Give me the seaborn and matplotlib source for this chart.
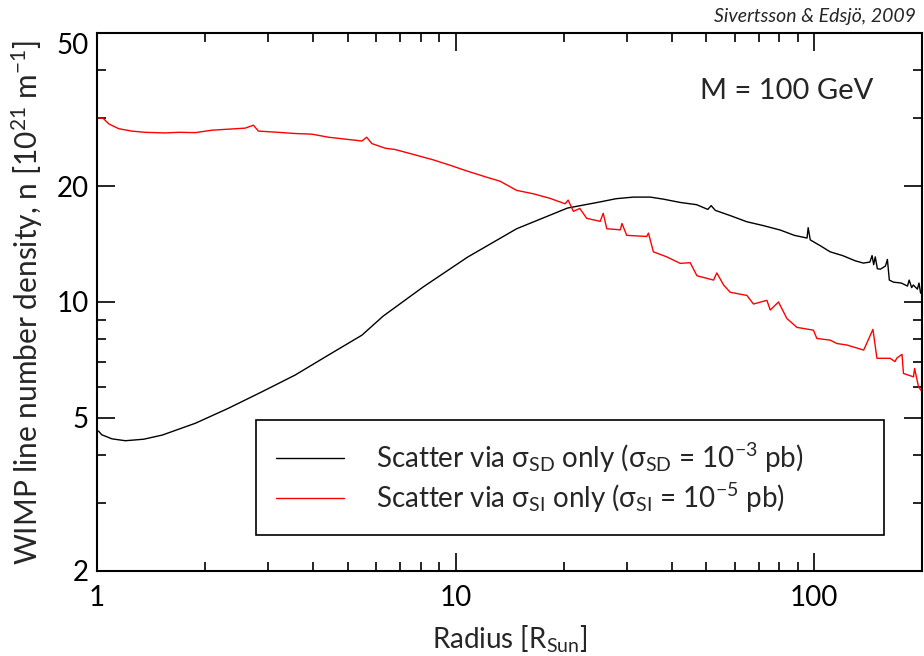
import matplotlib
matplotlib.use("Agg")
import matplotlib.pyplot as plt
import seaborn as sns
from matplotlib.ticker import FixedLocator, NullFormatter

# black curve: spin-dependent scattering only
sd_radius = [1.01, 1.03, 1.1, 1.2, 1.35, 1.52, 1.88, 2.32, 2.88, 3.57, 4.42,
             5.48, 6.28, 8.13, 10.8, 14.8, 20.5, 25.3, 28.0, 31.3, 34.9, 38.0,
             42.3, 44.0, 47.0, 50.5, 51.6, 53.0, 58.0, 64.9, 72.0, 80.4, 88.0,
             95.5, 96.2, 97.5, 104, 110.8, 120, 130, 137.1, 143, 145, 146.5,
             148, 150, 153, 158, 160, 162, 166.4, 175, 182, 184, 187, 189, 194,
             196, 198, 200]
sd_density = [4.62, 4.52, 4.41, 4.36, 4.40, 4.51, 4.84, 5.29, 5.84, 6.46, 7.28,
              8.20, 9.19, 10.95, 13.08, 15.5, 17.54, 18.2, 18.55, 18.73, 18.73,
              18.5, 18.14, 18.05, 17.9, 17.4, 17.8, 17.3, 16.8, 16.16, 15.8,
              15.38, 14.9, 14.66, 15.6, 14.5, 14.0, 13.5, 13.2, 12.8, 12.62,
              12.7, 13.2, 12.5, 13.1, 12.2, 12.17, 12.4, 12.9, 11.4, 11.26,
              11.2, 11.0, 11.4, 10.9, 11.07, 10.8, 11.2, 10.55, 10.5]

# red curve: spin-independent scattering only
si_radius = [1.008, 1.04, 1.08, 1.15, 1.25, 1.36, 1.55, 1.69, 1.88, 2.09, 2.59,
             2.73, 2.82, 3.20, 3.57, 3.97, 4.42, 4.92, 5.48, 5.65, 5.84, 6.36,
             6.78, 7.6, 8.67, 9.6, 10.75, 12.2, 13.3, 14.8, 16.5, 18.3, 20.2,
             20.6, 21.3, 22.2, 23.2, 25.3, 25.8, 26.4, 28.8, 29.1, 30.0, 34.1,
             34.5, 35.6, 38.8, 42.3, 45.1, 47.1, 52.4, 53.5, 55.9, 58.3, 64.9,
             67.7, 73.8, 75.4, 79.5, 83.9, 89.5, 99.5, 101.7, 110.8, 115.7,
             123.4, 137.4, 145.8, 149.6, 162.9, 168, 170, 175.7, 177.4, 189.2,
             190.5, 195.4, 200]
si_density = [30.1, 30.0, 29.0, 28.2, 27.8, 27.6, 27.5, 27.6, 27.55, 27.95, 28.3,
              28.8, 27.8, 27.6, 27.4, 27.3, 26.8, 26.5, 26.2, 26.8, 25.8, 25.1,
              24.9, 24.2, 23.4, 22.7, 21.9, 21.1, 20.6, 19.5, 19.1, 18.6, 18.0,
              18.4, 17.2, 17.5, 16.5, 16.2, 17.0, 15.5, 15.4, 16.0, 14.9, 14.8,
              15.1, 13.5, 13.1, 12.6, 12.65, 11.7, 11.4, 11.9, 11.07, 10.6, 10.4,
              9.88, 10.1, 9.53, 10.0, 9.06, 8.59, 8.45, 8.04, 7.96, 7.80, 7.73,
              7.50, 8.49, 7.14, 7.14, 7.0, 7.15, 7.31, 6.52, 6.39, 6.72, 6.02,
              5.84]

y_ticks = [2, 5, 10, 20, 50]
y_minor = [3, 4, 6, 7, 8, 9, 30, 40]
x_ticks = [1, 10, 100]
x_minor = [2, 3, 4, 5, 6, 7, 8, 9, 20, 30, 40, 50, 60, 70, 80, 90, 200]

sns.set_theme(style="ticks")
plt.rcParams["font.family"] = ["Lato", "DejaVu Sans"]
plt.rcParams["mathtext.fontset"] = "custom"
plt.rcParams["mathtext.rm"] = "Lato"
plt.rcParams["mathtext.it"] = "Lato:italic"
plt.rcParams["mathtext.sf"] = "Lato"
plt.rcParams["mathtext.fallback"] = "stixsans"

fig = plt.figure(figsize=(9.24, 6.56), dpi=100)
ax = fig.add_axes([0.105, 0.1296, 0.893, 0.8201])

sns.lineplot(x=sd_radius, y=sd_density, ax=ax, color="black", lw=1.0,
             estimator=None, sort=False,
             label=r"Scatter via $\mathrm{σ_{SD}}$ only ($\mathrm{σ_{SD}}$ = 10$^{-3}$ pb)")
sns.lineplot(x=si_radius, y=si_density, ax=ax, color="#ff0000", lw=1.0,
             estimator=None, sort=False,
             label=r"Scatter via $\mathrm{σ_{SI}}$ only ($\mathrm{σ_{SI}}$ = 10$^{-5}$ pb)")

ax.set_xscale("log")
ax.set_yscale("log")
ax.set_xlim(1, 200)
ax.set_ylim(2, 50)

ax.xaxis.set_major_locator(FixedLocator(x_ticks))
ax.xaxis.set_minor_locator(FixedLocator(x_minor))
ax.yaxis.set_major_locator(FixedLocator(y_ticks))
ax.yaxis.set_minor_locator(FixedLocator(y_minor))
ax.set_xticklabels([str(t) for t in x_ticks])
ax.set_yticklabels([str(t) for t in y_ticks])
ax.xaxis.set_minor_formatter(NullFormatter())
ax.yaxis.set_minor_formatter(NullFormatter())

ax.tick_params(which="both", direction="in", top=True, right=True,
               colors="black", width=1.2, labelsize=20)
ax.tick_params(which="major", length=13)
ax.tick_params(which="minor", length=6.5)
ax.tick_params(axis="x", which="major", pad=10)
ax.tick_params(axis="y", which="major", pad=6)
for s in ax.spines.values():
    s.set_linewidth(1.5)
    s.set_color("black")
ax.get_yticklabels()[-1].set_va("top")

ax.set_xlabel(r"Radius [R$_{\mathrm{Sun}}$]", fontsize=20)
ax.set_ylabel(r"WIMP line number density, n [10$^{21}$ m$^{-1}$]", fontsize=21.5)
ax.xaxis.set_label_coords(0.5, -0.098)
ax.yaxis.set_label_coords(-0.063, 0.5)

leg = ax.legend(loc="lower left", bbox_to_anchor=(0.1924, 0.0669, 0.7616, 0.2106),
                mode="expand", borderaxespad=0, fontsize=20, fancybox=False,
                frameon=True, framealpha=1, handlelength=2.45, handletextpad=1.15,
                borderpad=0.72, labelspacing=0.22)
leg.get_frame().set_edgecolor("black")
leg.get_frame().set_linewidth(1.2)

ax.text(0.836, 0.893, "M = 100 GeV", transform=ax.transAxes, fontsize=21,
        ha="center", va="center")
fig.text(0.991, 0.975, "Sivertsson & Edsjö, 2009", fontsize=14, style="italic",
         ha="right", va="center")

fig.savefig("out.png", dpi=100)
